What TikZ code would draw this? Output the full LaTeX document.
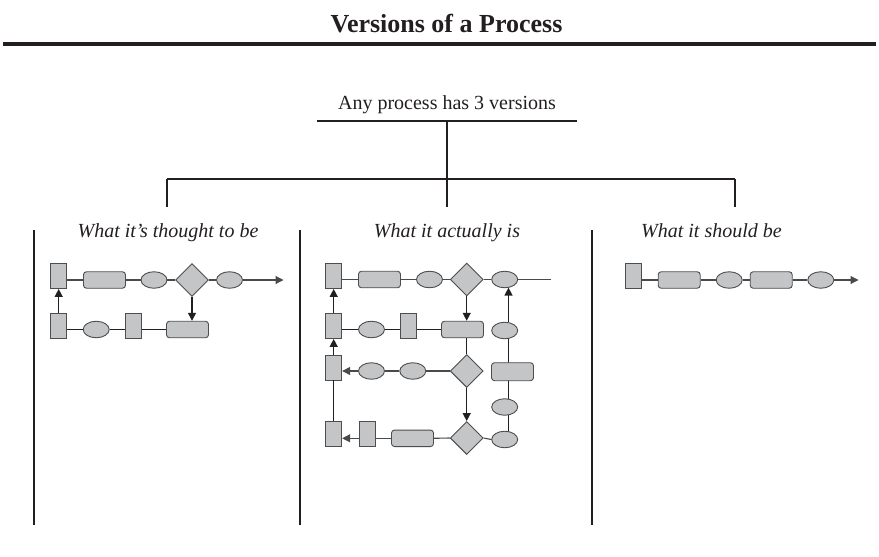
\documentclass[tikz,border=0pt]{standalone}
\usepackage{fontspec}
\setmainfont{Liberation Serif}
\usetikzlibrary{shapes.geometric, arrows.meta, backgrounds}
\definecolor{ink}{HTML}{231F20}
\definecolor{shapefill}{HTML}{C4C5C7}
\definecolor{shapeedge}{HTML}{4D4D4F}
\definecolor{flowgray}{HTML}{4A4A4A}

\begin{document}
\begin{tikzpicture}[x=1pt, y=-1pt,
  box/.style={draw=shapeedge, fill=shapefill, line width=0.9pt, inner sep=0pt,
              minimum width=16pt, minimum height=25pt},
  pill/.style={box, rounded corners=3pt, minimum width=42pt, minimum height=16.5pt},
  oval/.style={box, ellipse, minimum width=26pt, minimum height=16.5pt},
  dia/.style={box, diamond, minimum width=33pt, minimum height=33pt},
  flow/.style={draw=ink, line width=1.3pt},
  lightflow/.style={draw=flowgray, line width=1.1pt},
  tip/.style={-{Triangle[length=8pt, width=8pt]}},
  branch/.style={draw=ink, line width=2pt},
  colrule/.style={draw=ink, line width=2.5pt},
  heading/.style={font=\fontsize{20}{24}\selectfont\itshape, text=ink, anchor=base, inner sep=0pt},
]
\begin{scope}[on background layer]
\fill[white] (0,0) rectangle (879,557);
\end{scope}
\useasboundingbox (0,0) rectangle (879,557);

% title and rule
\node (title) [anchor=base, inner sep=0pt, text=ink, font=\fontsize{26}{30}\selectfont\bfseries] at (446.5,32) {Versions of a Process};
\coordinate (ruleL) at (3,44);
\coordinate (ruleR) at (876,44);
\draw[ink, line width=4pt] (ruleL) -- (ruleR);

% tree
\node (root) [anchor=base, inner sep=0pt, text=ink, font=\fontsize{20}{24}\selectfont] at (447,109) {Any process has 3 versions};
\coordinate (ulL) at (317,121);
\coordinate (ulR) at (577,121);
\coordinate (ulM) at (447,121);
\coordinate (brM) at (447,179);
\coordinate (brL) at (167,179);
\coordinate (brR) at (735,179);
\coordinate (dropL) at (167,207);
\coordinate (dropM) at (447,207);
\coordinate (dropR) at (735,207);
\draw[branch] (ulL) -- (ulR);
\draw[branch] (ulM) -- (brM);
\draw[branch] (brL) -- (brR);
\draw[branch] (brL) -- (dropL);
\draw[branch] (brM) -- (dropM);
\draw[branch] (brR) -- (dropR);

% column rules
\foreach \cx/\nm in {34/colA, 300/colB, 592/colC} {
  \coordinate (\nm top) at (\cx,230);
  \coordinate (\nm bot) at (\cx,525);
  \draw[colrule] (\nm top) -- (\nm bot);
}

% column headings
\node (hA) [heading] at (168,237) {What it’s thought to be};
\node (hB) [heading] at (447,237) {What it actually is};
\node (hC) [heading, anchor=base west] at (641,237) {What it should be};

% ---------- what it's thought to be ----------
\node (A1) [box]  at (58.7,276) {};
\node (B1) [pill] at (104.5,280) {};
\node (C1) [oval] at (154,280) {};
\node (D1) [dia]  at (192,280) {};
\node (E1) [oval] at (229.5,280) {};
\coordinate (out1) at (283.5,280);
\node (F1) [box]  at (58.7,326) {};
\node (G1) [oval] at (96.2,329.5) {};
\node (H1) [box]  at (133.7,326) {};
\node (I1) [pill] at (187.5,329.5) {};

\draw[lightflow] (B1.west -| A1.east) -- (B1.west);
\draw[lightflow] (B1.east) -- (C1.west);
\draw[lightflow] (C1.east) -- (D1.west);
\draw[lightflow] (D1.east) -- (E1.west);
\draw[lightflow, tip] (E1.east) -- (out1);
\draw[flow] (G1.west -| F1.east) -- (G1.west);
\draw[flow] (G1.east) -- (G1.east -| H1.west);
\draw[flow] (I1.west -| H1.east) -- (I1.west);
\draw[flow, tip] (F1.north) -- (A1.south);
\draw[flow, tip] (D1.south) -- (D1.south |- I1.north);

% ---------- what it actually is ----------
\node (A2) [box]  at (333.7,276) {};
\node (B2) [pill] at (379.5,279.5) {};
\node (C2) [oval] at (429.5,279.5) {};
\node (D2) [dia]  at (466.7,279.5) {};
\node (E2) [oval] at (504.7,279.5) {};
\coordinate (out2) at (551,279.5);

\node (F2) [box]  at (333.7,326) {};
\node (G2) [oval] at (371.5,329.5) {};
\node (H2) [box]  at (408.7,326) {};
\node (I2) [pill] at (462.5,329.5) {};
\node (J2) [oval] at (504.7,330.5) {};

\node (K2) [box]  at (333.7,367.5) {};
\node (L2) [oval] at (371.5,371) {};
\node (N2) [oval] at (412.8,371) {};
\node (O2) [dia]  at (466.7,371) {};
\node (P2) [pill, minimum height=18pt] at (512.5,371.7) {};
\node (Q2) [oval] at (504.7,407) {};

\node (R2) [box]  at (333.7,434.2) {};
\node (S2) [box]  at (367.3,434.2) {};
\node (T2) [pill] at (412.5,438.3) {};
\node (U2) [dia]  at (466.7,438) {};
\node (V2) [oval] at (504.7,439.5) {};
\coordinate (ret) at (508.5,0);

\draw[lightflow] (B2.west -| A2.east) -- (B2.west);
\draw[lightflow] (B2.east) -- (C2.west);
\draw[lightflow] (C2.east) -- (D2.west);
\draw[lightflow] (D2.east) -- (E2.west);
\draw[lightflow] (E2.east) -- (out2);

\draw[flow] (G2.west -| F2.east) -- (G2.west);
\draw[flow] (G2.east) -- (G2.east -| H2.west);
\draw[flow] (I2.west -| H2.east) -- (I2.west);

\draw[lightflow] (O2.west) -- (N2.east);
\draw[lightflow] (N2.west) -- (L2.east);
\draw[lightflow, tip] (L2.west) -- (L2.west -| K2.east);

\draw[lightflow] (U2.west) -- (T2.east);
\draw[lightflow] (T2.west) -- (T2.west -| S2.east);
\draw[lightflow, tip] (T2.west -| S2.west) -- (T2.west -| R2.east);
\draw[lightflow] (U2.east) -- (V2.west);

\draw[flow, tip] (F2.north) -- (A2.south);
\draw[flow, tip] (K2.north) -- (F2.south);
\draw[flow] (R2.north) -- (K2.south);
\draw[flow, tip] (D2.south) -- (D2.south |- I2.north);
\draw[flow] (O2.north |- I2.south) -- (O2.north);
\draw[flow, tip] (O2.south) -- (U2.north);

% return path on the right, running behind its shapes
\begin{scope}[on background layer]
\draw[flow] (ret |- V2.center) -- (ret |- Q2.center);
\draw[flow] (ret |- Q2.center) -- (ret |- P2.center);
\draw[flow] (ret |- P2.center) -- (ret |- J2.center);
\end{scope}
\draw[flow, tip] (ret |- J2.north) -- ([yshift=0.6pt]ret |- E2.south);

% ---------- what it should be ----------
\node (A3) [box]  at (633.7,275.5) {};
\node (B3) [pill] at (679.2,280) {};
\node (C3) [oval] at (729.2,280) {};
\node (D3) [pill] at (771.2,280) {};
\node (E3) [oval] at (820.8,280) {};
\coordinate (out3) at (858.5,280);

\draw[lightflow] (B3.west -| A3.east) -- (B3.west);
\draw[lightflow] (B3.east) -- (C3.west);
\draw[lightflow] (C3.east) -- (D3.west);
\draw[lightflow] (D3.east) -- (E3.west);
\draw[lightflow, tip] (E3.east) -- (out3);
\end{tikzpicture}
\end{document}
